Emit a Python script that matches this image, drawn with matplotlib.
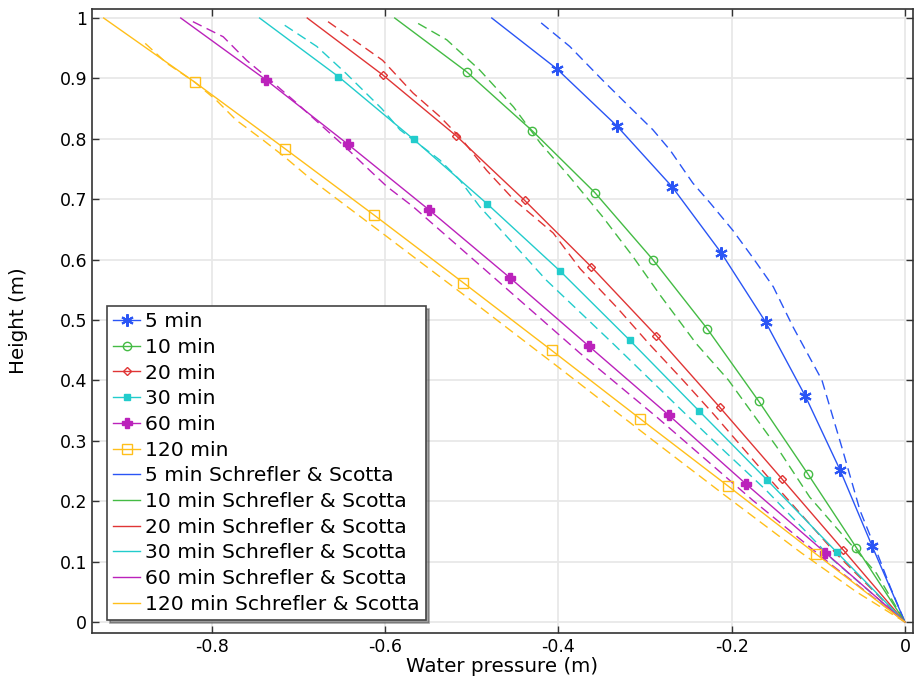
import numpy as np
import matplotlib
matplotlib.use("Agg")
import matplotlib.pyplot as plt
from matplotlib.lines import Line2D

plt.rcParams['font.family'] = ['DejaVu Sans']
plt.rcParams['axes.unicode_minus'] = False

# Model results (solid lines with markers), first and last points are the ends
p5_x = [-0.477, -0.402, -0.333, -0.269, -0.212, -0.161, -0.115, -0.075, -0.038, 0]
p5_y = [1.0, 0.916, 0.822, 0.721, 0.611, 0.497, 0.374, 0.252, 0.126, 0]
p10_x = [-0.589, -0.506, -0.430, -0.358, -0.291, -0.228, -0.169, -0.112, -0.056, 0]
p10_y = [1.0, 0.911, 0.813, 0.711, 0.600, 0.485, 0.366, 0.245, 0.123, 0]
p20_x = [-0.690, -0.603, -0.518, -0.439, -0.362, -0.287, -0.214, -0.142, -0.071, 0]
p20_y = [1.0, 0.906, 0.805, 0.698, 0.588, 0.474, 0.356, 0.237, 0.119, 0]
p30_x = [-0.745, -0.654, -0.567, -0.482, -0.398, -0.318, -0.238, -0.159, -0.079, 0]
p30_y = [1.0, 0.903, 0.799, 0.692, 0.581, 0.467, 0.350, 0.235, 0.116, 0]
p60_x = [-0.836, -0.738, -0.643, -0.549, -0.456, -0.365, -0.273, -0.183, -0.092, 0]
p60_y = [1.0, 0.898, 0.791, 0.682, 0.570, 0.457, 0.343, 0.228, 0.115, 0]
p120_x = [-0.925, -0.820, -0.716, -0.613, -0.510, -0.408, -0.306, -0.204, -0.103, 0]
p120_y = [1.0, 0.894, 0.784, 0.674, 0.562, 0.450, 0.337, 0.225, 0.113, 0]

# Schrefler & Scotta reference (dashed lines)
s5_x = [-0.420, -0.387, -0.349, -0.318, -0.291, -0.271, -0.245, -0.225, -0.199, -0.176,
        -0.152, -0.129, -0.096, -0.072, -0.052, -0.032, -0.017, 0]
s5_y = [0.992, 0.953, 0.897, 0.853, 0.815, 0.781, 0.727, 0.694, 0.649, 0.604,
        0.555, 0.488, 0.401, 0.285, 0.185, 0.114, 0.058, 0]
s10_x = [-0.562, -0.529, -0.491, -0.452, -0.421, -0.387, -0.349, -0.314, -0.282, -0.241,
         -0.204, -0.148, -0.110, -0.067, -0.033, 0]
s10_y = [0.991, 0.964, 0.914, 0.853, 0.793, 0.737, 0.671, 0.605, 0.540, 0.461,
         0.401, 0.290, 0.207, 0.136, 0.081, 0]
s20_x = [-0.666, -0.603, -0.568, -0.537, -0.512, -0.483, -0.452, -0.406, -0.375, -0.332,
         -0.295, -0.256, -0.222, -0.155, -0.080, 0]
s20_y = [0.994, 0.930, 0.876, 0.837, 0.800, 0.748, 0.700, 0.644, 0.585, 0.520,
         0.460, 0.400, 0.346, 0.235, 0.114, 0]
s30_x = [-0.716, -0.679, -0.645, -0.604, -0.583, -0.560, -0.537, -0.514, -0.491, -0.414,
         -0.337, -0.258, -0.218, -0.160, -0.083, 0]
s30_y = [0.988, 0.953, 0.908, 0.850, 0.815, 0.790, 0.765, 0.732, 0.688, 0.566,
         0.461, 0.351, 0.296, 0.218, 0.103, 0]
s60_x = [-0.822, -0.787, -0.760, -0.735, -0.702, -0.672, -0.645, -0.618, -0.598, -0.568,
         -0.471, -0.375, -0.287, -0.176, -0.085, 0]
s60_y = [0.994, 0.969, 0.930, 0.900, 0.859, 0.820, 0.785, 0.748, 0.721, 0.688,
         0.566, 0.445, 0.340, 0.202, 0.095, 0]
s120_x = [-0.877, -0.852, -0.820, -0.795, -0.772, -0.741, -0.716, -0.683, -0.646, -0.609,
          -0.563, -0.491, -0.401, -0.291, -0.208, -0.120, -0.056, 0]
s120_y = [0.958, 0.925, 0.894, 0.864, 0.831, 0.798, 0.770, 0.730, 0.690, 0.650,
          0.600, 0.522, 0.423, 0.301, 0.210, 0.115, 0.050, 0]

times = ['5 min', '10 min', '20 min', '30 min', '60 min', '120 min']
colors = ['#2a55f5', '#44bb44', '#e03535', '#22cccc', '#bb22bb', '#ffbf1a']
markers = [(6, 2, 0), 'o', 'D', 's', 'P', 's']
msizes = [9, 6, 4.5, 4.5, 7, 7]
filled = [True, False, False, True, True, False]
model = [(p5_x, p5_y), (p10_x, p10_y), (p20_x, p20_y), (p30_x, p30_y), (p60_x, p60_y), (p120_x, p120_y)]
ref = [(s5_x, s5_y), (s10_x, s10_y), (s20_x, s20_y), (s30_x, s30_y), (s60_x, s60_y), (s120_x, s120_y)]

fig = plt.figure(figsize=(9.16, 6.85), dpi=100)
ax = fig.add_axes([0.1004, 0.0759, 0.8963, 0.911])

handles = []
for (x, y), t, c, m, ms, f in zip(model, times, colors, markers, msizes, filled):
    ax.plot(x, y, color=c, lw=1, zorder=3)
    ax.plot(x[1:-1], y[1:-1], ls='none', marker=m, ms=ms, mec=c, mfc=c if f else 'none',
            mew=1.5 if m == (6, 2, 0) else 1.0, zorder=4)
    handles.append(Line2D([], [], color=c, lw=1, marker=m, ms=ms, mec=c,
                          mfc=c if f else 'none', mew=1.5 if m == (6, 2, 0) else 1.0))
for (x, y), t, c in zip(ref, times, colors):
    ax.plot(x, y, color=c, lw=1, ls=(0, (7, 4)), zorder=2)
    handles.append(Line2D([], [], color=c, lw=1))

labels = times + [t + ' Schrefler & Scotta' for t in times]

ax.set_xlim(-0.9385, 0.0092)
ax.set_ylim(-0.018, 1.015)
ax.set_xticks([-0.8, -0.6, -0.4, -0.2, 0])
ax.set_xticklabels(['-0.8', '-0.6', '-0.4', '-0.2', '0'])
ax.set_yticks(np.arange(0, 1.01, 0.1))
ax.set_yticklabels(['0', '0.1', '0.2', '0.3', '0.4', '0.5', '0.6', '0.7', '0.8', '0.9', '1'])
ax.tick_params(direction='in', top=True, right=True, length=5, width=1, labelsize=12.5,
               color='#333333')
ax.grid(True, color='#e8e8e8', lw=1.3)
ax.set_axisbelow(True)
for s in ax.spines.values():
    s.set_color('#333333')
    s.set_linewidth(1.2)

ax.set_xlabel('Water pressure (m)', fontsize=14.3, labelpad=1)
ax.set_ylabel('Height (m)', fontsize=14.3, labelpad=23)

leg = ax.legend(handles, labels, loc='lower left', bbox_to_anchor=(0.018, 0.021),
                borderaxespad=0, fontsize=14.6, frameon=True, fancybox=False, shadow=True,
                handlelength=1.35, handletextpad=0.25, labelspacing=0.33, borderpad=0.3,
                numpoints=1)
leg.get_frame().set_edgecolor('#444444')
leg.get_frame().set_linewidth(1.2)

fig.savefig('out.png', dpi=100)
